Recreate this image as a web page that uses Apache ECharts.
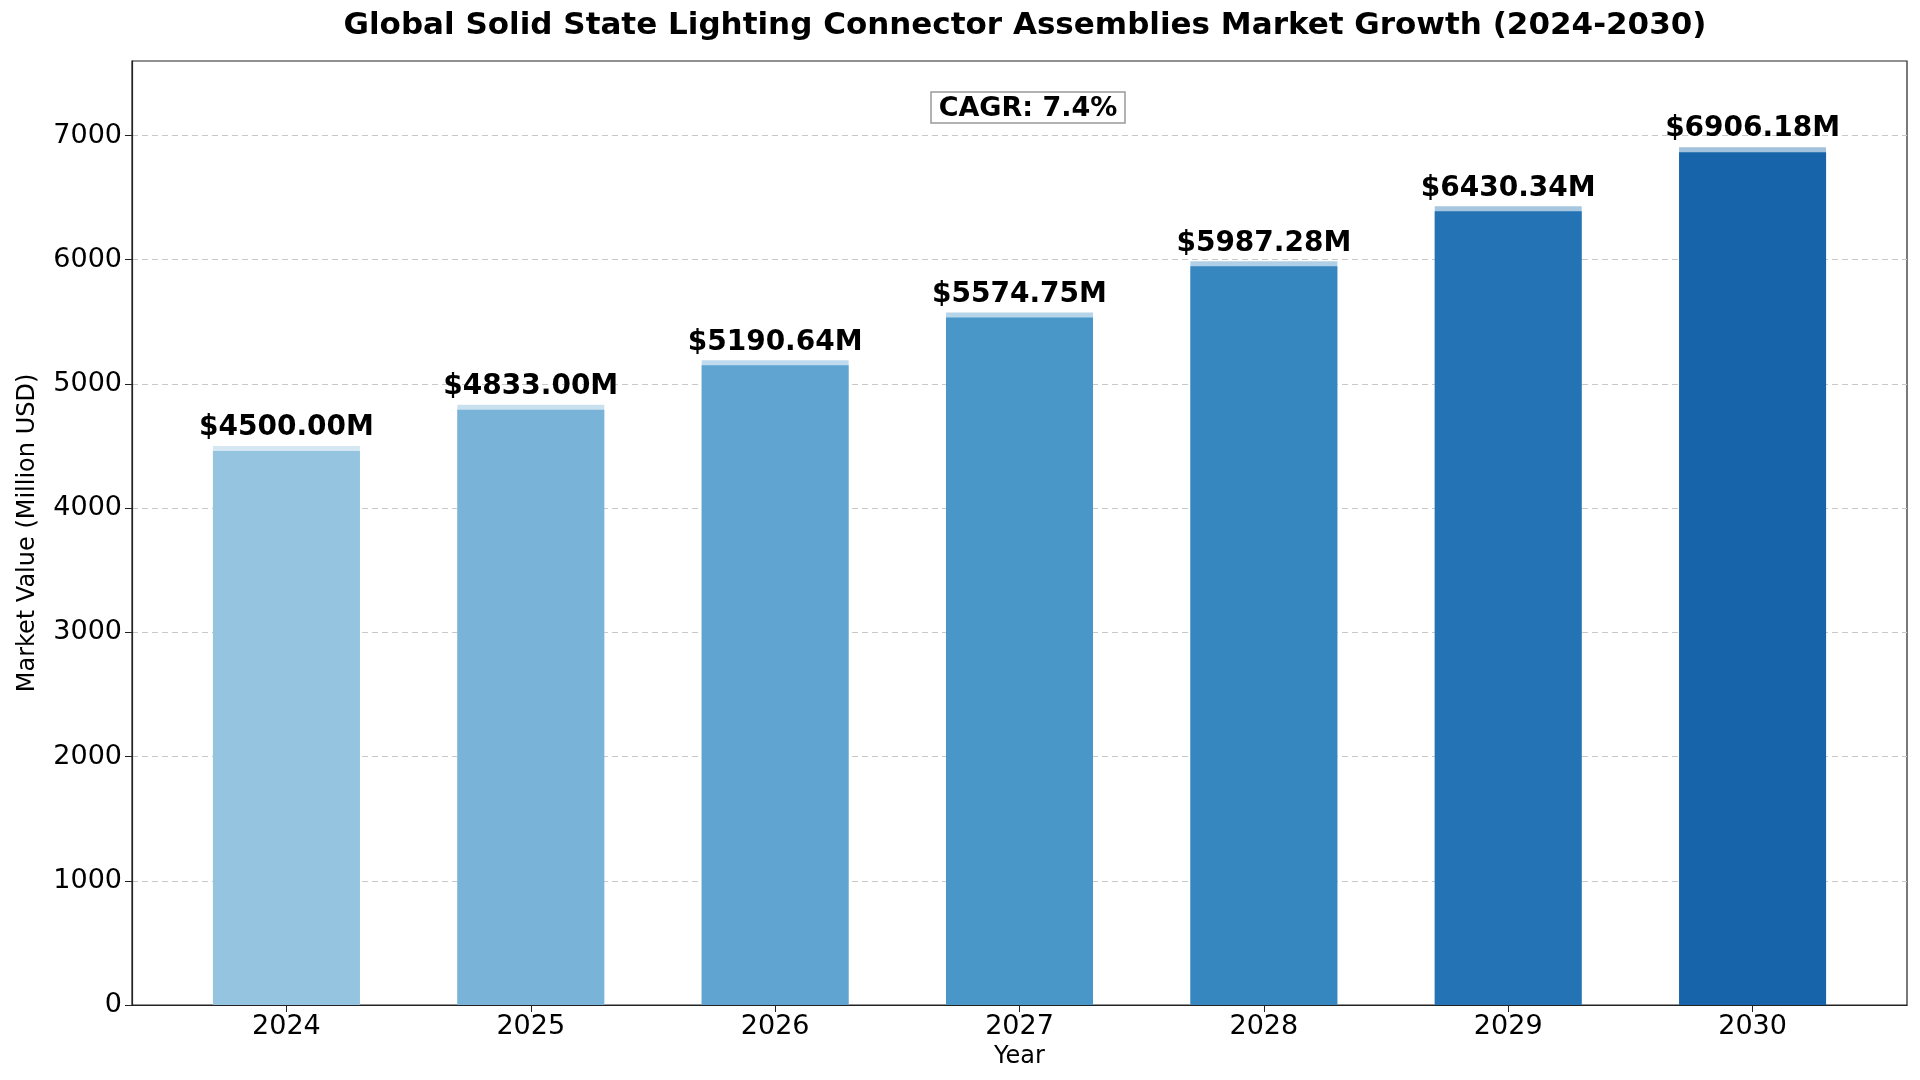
<!DOCTYPE html>
<html>
<head>
<meta charset="utf-8">
<script src="https://cdn.jsdelivr.net/npm/echarts@6/dist/echarts.min.js"></script>
<style>
  html, body { margin: 0; padding: 0; background: #fff; }
  #chart { width: 1920px; height: 1080px; }
</style>
</head>
<body>
<div id="chart"></div>
<script>
// data
var years = [2024, 2025, 2026, 2027, 2028, 2029, 2030];
var marketValues = [4500.00, 4833.00, 5190.64, 5574.75, 5987.28, 6430.34, 6906.18];
var yTicks = [0, 1000, 2000, 3000, 4000, 5000, 6000, 7000];
var cagrText = 'CAGR: 7.4%';

// Blues-like ramp, light -> dark
var barColors = ['#94c4df', '#79b3d7', '#60a5d1', '#4997c9', '#3686c0', '#2473b5', '#1764ab'];
var capH = 40;

// lighter top cap = bar colour blended with white at 0.6
function lighten(hex, a) {
  var r = parseInt(hex.substr(1, 2), 16), g = parseInt(hex.substr(3, 2), 16), b = parseInt(hex.substr(5, 2), 16);
  r = Math.round(r * (1 - a) + 255 * a); g = Math.round(g * (1 - a) + 255 * a); b = Math.round(b * (1 - a) + 255 * a);
  return 'rgb(' + r + ',' + g + ',' + b + ')';
}

// full-height light bar underneath, darker body drawn over it, leaving a light cap
var fullData = years.map(function (y, i) { return [y, marketValues[i]]; });
var bodyData = years.map(function (y, i) { return [y, marketValues[i] - capH]; });

var myChart = echarts.init(document.getElementById('chart'));
var font = 'DejaVu Sans';

var option = {
  backgroundColor: '#fff',
  animation: false,
  title: [{
    text: 'Global Solid State Lighting Connector Assemblies Market Growth (2024-2030)',
    left: 1020, top: 5, textAlign: 'center',
    textStyle: { fontFamily: font, fontSize: 31, fontWeight: 'bold', color: '#000' }
  }, {
    text: cagrText,
    left: 1020, top: 92, textAlign: 'center',
    padding: [3, 8, 1, 8],
    borderColor: '#999', borderWidth: 1.5, backgroundColor: '#fff',
    textStyle: { fontFamily: font, fontSize: 27, fontWeight: 'bold', color: '#000' }
  }],
  grid: {
    left: 132, right: 13, top: 61, bottom: 75,
    show: true, borderColor: '#222', borderWidth: 1.2, backgroundColor: 'transparent'
  },
  xAxis: {
    type: 'value',
    min: 2023.368, max: 2030.632,
    name: 'Year', nameLocation: 'middle', nameGap: 38,
    nameTextStyle: { fontFamily: font, fontSize: 24, color: '#000' },
    axisLine: { show: true, lineStyle: { color: '#222', width: 1.2 } },
    axisTick: { show: true, length: 7, customValues: years, lineStyle: { color: '#222' } },
    axisLabel: { customValues: years, fontFamily: font, fontSize: 27, color: '#000', margin: 8,
      formatter: function (v) { return String(Math.round(v)); } },
    splitLine: { show: false }
  },
  yAxis: {
    type: 'value',
    min: 0, max: 7600, interval: 1000,
    name: 'Market Value (Million USD)', nameLocation: 'middle', nameGap: 92,
    nameTextStyle: { fontFamily: font, fontSize: 24, color: '#000' },
    axisLine: { show: true, lineStyle: { color: '#222', width: 1.2 } },
    axisTick: { show: true, length: 7, customValues: yTicks, lineStyle: { color: '#222' } },
    axisLabel: { customValues: yTicks, fontFamily: font, fontSize: 27, color: '#000', margin: 10,
      formatter: function (v) { return String(v); } },
    splitLine: { show: true, lineStyle: { color: '#c8c8c8', type: [6, 4], width: 1 } }
  },
  series: [{
    type: 'bar', barWidth: 147, z: 2,
    data: fullData,
    itemStyle: { color: function (p) { return lighten(barColors[p.dataIndex], 0.6); } },
    label: {
      show: true, position: 'top', distance: 4,
      fontFamily: font, fontSize: 28, fontWeight: 'bold', color: '#000',
      formatter: function (p) { return '$' + marketValues[p.dataIndex].toFixed(2) + 'M'; }
    }
  }, {
    type: 'bar', barWidth: 147, barGap: '-100%', z: 3,
    data: bodyData,
    itemStyle: { color: function (p) { return barColors[p.dataIndex]; } }
  }]
};
myChart.setOption(option);
</script>
</body>
</html>
